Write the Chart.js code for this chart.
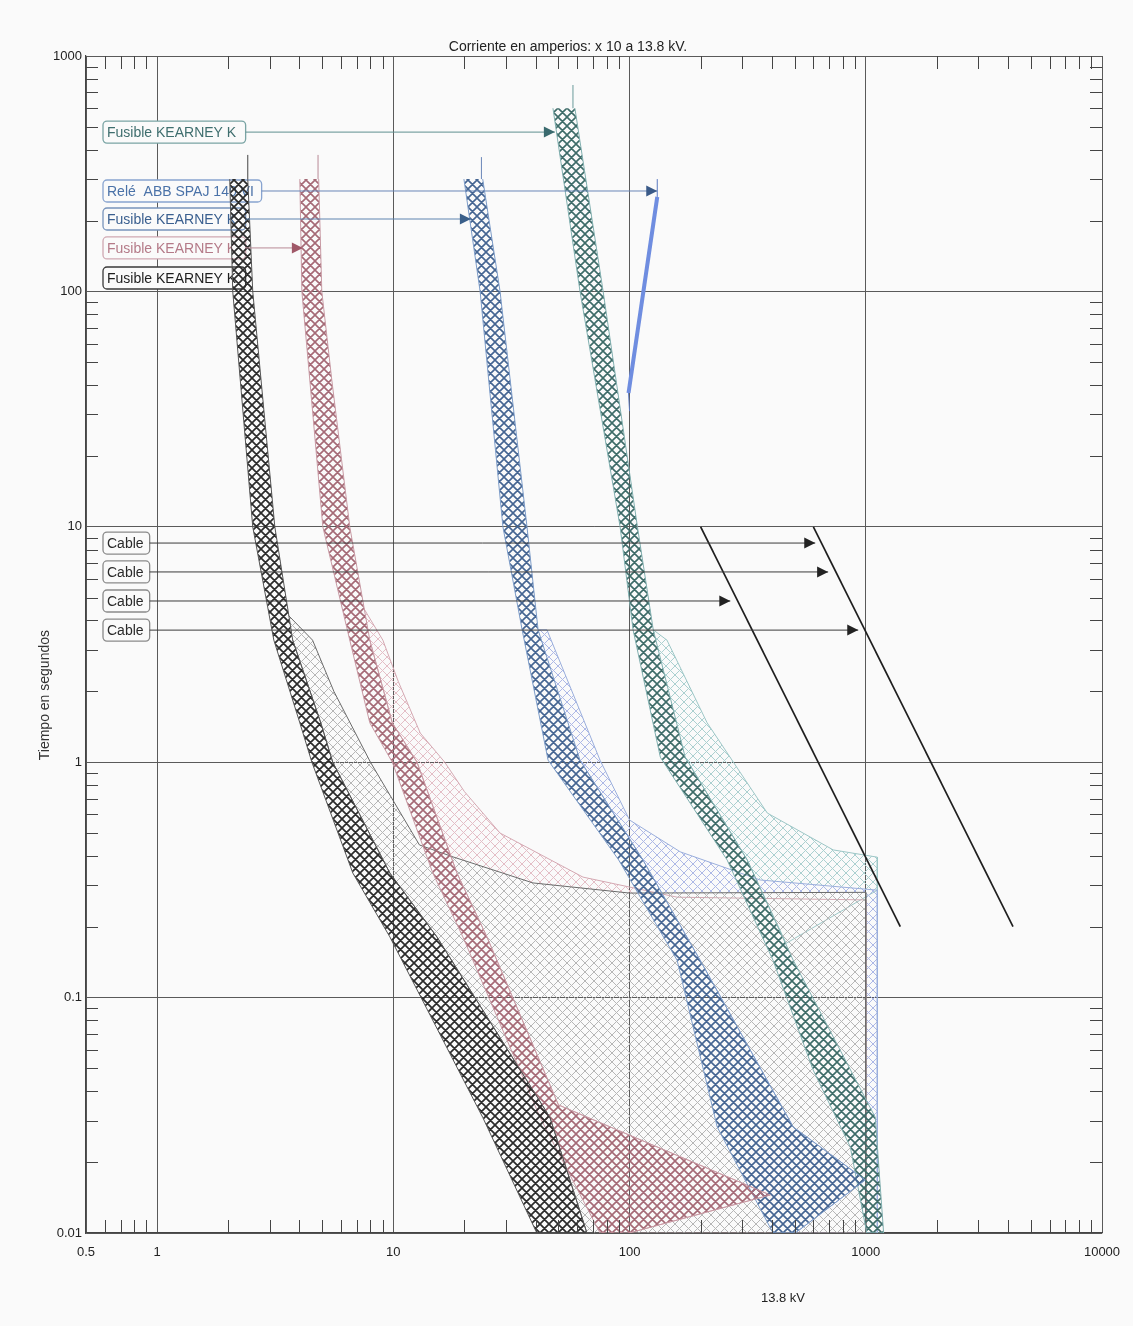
<!DOCTYPE html>
<html>
<head>
<meta charset="utf-8">
<title>Coordinación de protecciones 13.8 kV</title>
<script src="https://cdn.jsdelivr.net/npm/chart.js@4.4.1/dist/chart.umd.min.js"></script>
<style>
  html, body { margin: 0; padding: 0; background: #fafafa; }
  canvas { display: block; }
</style>
</head>
<body>
<canvas id="tcc" width="1133" height="1326"></canvas>
<script>
// axis ticks
const xTickValues = [0.5, 1, 10, 100, 1000, 10000];
const xTickLabels = ['0.5', '1', '10', '100', '1000', '10000'];
const yTickValues = [0.01, 0.1, 1, 10, 100, 1000];
const yTickLabels = ['0.01', '0.1', '1', '10', '100', '1000'];

// fuse bands: minimum melting curve (left) and total clearing curve (right)
const blackMinX = [2.03, 2.09, 2.54, 3.12, 4.02, 4.52, 6.74, 9.67, 23.9, 40.5];
const blackMinT = [300, 100, 10, 3.3, 1.47, 1.0, 0.338, 0.181, 0.031, 0.01];
const blackClrX = [2.42, 2.54, 3.15, 3.75, 4.93, 5.54, 9.67, 15.3, 46, 66];
const blackClrT = [300, 100, 10, 3.3, 1.47, 1.0, 0.338, 0.181, 0.031, 0.01];

const pinkMinX = [4.02, 4.1, 4.43, 5.03, 6.54, 7.95, 9.9, 14.7, 19.7, 41.8, 75];
const pinkMinT = [300, 100, 42, 10, 3.3, 1.47, 1.0, 0.338, 0.181, 0.031, 0.01];
const pinkClrX = [4.83, 4.98, 5.49, 6.54, 7.95, 9.9, 12.6, 18.6, 24.9, 50, 394, 99.5];
const pinkClrT = [300, 100, 42, 10, 3.3, 1.47, 1.0, 0.338, 0.181, 0.035, 0.0145, 0.01];

const blueMinX = [19.9, 23.3, 29.1, 35.1, 45.2, 90, 159, 235, 405];
const blueMinT = [300, 100, 10, 3.65, 1.02, 0.384, 0.144, 0.0282, 0.01];
const blueClrX = [23.9, 28.3, 36.8, 41, 61.7, 114, 199, 493, 995, 503];
const blueClrT = [300, 100, 10, 3.65, 1.02, 0.384, 0.144, 0.0282, 0.0168, 0.01];

const tealMinX = [47.4, 61.7, 91.2, 103.5, 135, 259, 405, 599, 860, 1010];
const tealMinT = [600, 100, 10, 3.65, 1.05, 0.384, 0.144, 0.0492, 0.0232, 0.01];
const tealClrX = [58.7, 77.3, 108, 126, 172, 315, 493, 1097, 1190];
const tealClrT = [600, 100, 10, 3.65, 1.05, 0.384, 0.144, 0.031, 0.01];

// light hatched zones to the right of each band
const grayZoneX = [3.6, 4.55, 5.6, 8.0, 12.9, 17.9, 39, 100, 1000, 1000, 66, 46, 15.3, 9.67, 5.54, 4.93, 3.75];
const grayZoneT = [4.2, 3.3, 2.0, 1.0, 0.445, 0.396, 0.307, 0.278, 0.28, 0.01, 0.01, 0.031, 0.181, 0.338, 1.0, 1.47, 3.3];
const pinkZoneX = [7.5, 9.03, 10.5, 13, 16.5, 20, 28.3, 63.5, 159, 1000, 1000, 99.5, 394, 50, 24.9, 18.6, 12.6, 9.9, 7.95];
const pinkZoneT = [4.5, 3.3, 2.2, 1.33, 1.0, 0.75, 0.5, 0.325, 0.267, 0.26, 0.01, 0.01, 0.0145, 0.035, 0.181, 0.338, 1.0, 1.47, 3.3];
const blueZoneX = [41, 44.7, 75, 100, 164, 357, 1119, 1119, 503, 995, 493, 199, 114, 61.7];
const blueZoneT = [3.65, 3.65, 1.02, 0.568, 0.416, 0.316, 0.286, 0.01, 0.01, 0.0168, 0.0282, 0.144, 0.384, 1.02];
const tealZoneX = [126, 144, 213, 383, 728, 1119, 1119, 460, 315, 172];
const tealZoneT = [3.65, 3.3, 1.47, 0.608, 0.424, 0.395, 0.286, 0.17, 0.384, 1.05];

// thin curve tails above the bands
const tailX = [2.42, 4.8, 23.6, 57.6];
const tailBottomT = [300, 300, 300, 600];
const tailTopT = [380, 380, 372, 753];

// relay ABB SPAJ 140
const relayX = [131, 99];
const relayT = [252, 37];
const relayTopX = [131, 131];
const relayTopT = [252, 300];
const relayFootX = [99, 100];
const relayFootT = [37, 31];

// cable damage curves
const cableAX = [200, 1400];
const cableAT = [10, 0.2];
const cableBX = [600, 4200];
const cableBT = [10, 0.2];

// labels
const labelText = ['Fusible KEARNEY K', 'Relé  ABB SPAJ 140 VI', 'Fusible KEARNEY K', 'Fusible KEARNEY K', 'Fusible KEARNEY K', 'Cable', 'Cable', 'Cable', 'Cable'];
const labelT = [475, 267, 203, 153, 114, 8.53, 6.43, 4.84, 3.64];
const labelEndX = [2.37, 2.77, 2.37, 2.37, 2.37, 0.93, 0.93, 0.93, 0.93];
const arrowX = [48.3, 131, 21.3, 4.14, null, 611, 693, 267, 929];
const labelColor = ['#3f6e6e', '#4a72a8', '#3a5f8f', '#b47a88', '#1e1e1e', '#2a2a2a', '#2a2a2a', '#2a2a2a', '#2a2a2a'];
const labelEdge = ['#7aa4a4', '#88a4d0', '#7894bc', '#d0a8b2', '#3a3a3a', '#8a8a8a', '#8a8a8a', '#8a8a8a', '#8a8a8a'];
const leaderColor = ['#5f8f8f', '#6a86b8', '#5f84b0', '#b88a96', '#333', '#3a3a3a', '#3a3a3a', '#3a3a3a', '#3a3a3a'];
const arrowColor = ['#3a6a6e', '#3a5a88', '#3a5f8a', '#a05868', '#222', '#222', '#222', '#222', '#222'];

Chart.defaults.font.family = "'Liberation Sans', Arial, sans-serif";
Chart.defaults.color = '#222';

const canvas = document.getElementById('tcc');
const ctx = canvas.getContext('2d');

function hatch(color, width) {
  const s = 9;
  const tile = document.createElement('canvas');
  tile.width = s; tile.height = s;
  const g = tile.getContext('2d');
  g.strokeStyle = color;
  g.lineWidth = width;
  g.beginPath();
  for (let k = -1; k <= 1; k++) {
    g.moveTo(k * s, 0); g.lineTo(k * s + s, s);
    g.moveTo(k * s + s, 0); g.lineTo(k * s, s);
  }
  g.stroke();
  return ctx.createPattern(tile, 'repeat');
}

function pts(xs, ts) {
  return xs.map((x, i) => ({ x: x, y: ts[i] }));
}

function band(minX, minT, clrX, clrT) {
  return pts(minX, minT).concat(pts(clrX, clrT).reverse());
}

function area(data, pattern, edge, order) {
  return { data: data, showLine: true, fill: 'shape', backgroundColor: pattern,
    borderColor: edge, borderWidth: 1, pointRadius: 0, order: order };
}

function line(data, color, width, order) {
  return { data: data, showLine: true, fill: false, borderColor: color,
    borderWidth: width, pointRadius: 0, order: order };
}

const datasets = [
  area(pts(grayZoneX, grayZoneT), hatch('#b6b6b6', 1), '#6a6a6a', 6),
  area(pts(pinkZoneX, pinkZoneT), hatch('#e4bec6', 1), '#d4a8b2', 6),
  area(pts(blueZoneX, blueZoneT), hatch('#adb8e6', 1), '#9aaedc', 6),
  area(pts(tealZoneX, tealZoneT), hatch('#abd0d0', 1), '#9cc6c6', 6),
  area(band(blackMinX, blackMinT, blackClrX, blackClrT), hatch('#2b2b2b', 1.7), '#555', 5),
  area(band(pinkMinX, pinkMinT, pinkClrX, pinkClrT), hatch('#a56a76', 1.6), '#c89aa4', 5),
  area(band(blueMinX, blueMinT, blueClrX, blueClrT), hatch('#456592', 1.6), '#7d9cc8', 5),
  area(band(tealMinX, tealMinT, tealClrX, tealClrT), hatch('#3d6b68', 1.6), '#82b0b0', 5)
];

const tailColor = ['#444', '#b88a96', '#6a86b8', '#6a9a9a'];
tailX.forEach((x, i) => {
  datasets.push(line([{ x: x, y: tailBottomT[i] }, { x: x, y: tailTopT[i] }], tailColor[i], 1, 4));
});

datasets.push(line(pts(relayX, relayT), '#6f8de0', 4, 3));
datasets.push(line(pts(relayTopX, relayTopT), '#5a78c0', 1, 3));
datasets.push(line(pts(relayFootX, relayFootT), '#5a78c0', 1, 3));
datasets.push(line(pts(cableAX, cableAT), '#1e1e1e', 1.7, 3));
datasets.push(line(pts(cableBX, cableBT), '#1e1e1e', 1.7, 3));

labelText.forEach((txt, i) => {
  if (arrowX[i] === null) return;
  const d = line([{ x: labelEndX[i], y: labelT[i] }, { x: arrowX[i], y: labelT[i] }], leaderColor[i], 1, 2);
  d.arrowColor = arrowColor[i];
  datasets.push(d);
});

// label boxes sit underneath the curves, like in the plot
const labelBoxes = {
  id: 'labelBoxes',
  beforeDatasetsDraw(chart) {
    const { ctx, chartArea, scales: { x, y } } = chart;
    ctx.save();
    ctx.font = "14px 'Liberation Sans', Arial, sans-serif";
    ctx.textBaseline = 'middle';
    labelText.forEach((txt, i) => {
      const cy = y.getPixelForValue(labelT[i]);
      const x0 = chartArea.left + 17;
      const x1 = x.getPixelForValue(labelEndX[i]);
      ctx.beginPath();
      ctx.roundRect(x0, cy - 11, x1 - x0, 22, 4);
      ctx.fillStyle = '#fafafa';
      ctx.fill();
      ctx.lineWidth = 1.3;
      ctx.strokeStyle = labelEdge[i];
      ctx.stroke();
      ctx.fillStyle = labelColor[i];
      ctx.fillText(txt, x0 + 4, cy + 1);
    });
    ctx.restore();
  }
};

const arrowHeads = {
  id: 'arrowHeads',
  afterDatasetsDraw(chart) {
    const ctx = chart.ctx;
    ctx.save();
    chart.data.datasets.forEach((ds, i) => {
      if (!ds.arrowColor) return;
      const meta = chart.getDatasetMeta(i);
      const tip = meta.data[meta.data.length - 1];
      ctx.beginPath();
      ctx.moveTo(tip.x, tip.y);
      ctx.lineTo(tip.x - 11, tip.y - 5.5);
      ctx.lineTo(tip.x - 11, tip.y + 5.5);
      ctx.closePath();
      ctx.fillStyle = ds.arrowColor;
      ctx.fill();
    });
    ctx.restore();
  }
};

// inward minor ticks on the four sides of the frame
const minorTicks = {
  id: 'minorTicks',
  afterDatasetsDraw(chart) {
    const { ctx, chartArea: a, scales: { x, y } } = chart;
    ctx.save();
    ctx.strokeStyle = '#444';
    ctx.lineWidth = 1;
    ctx.beginPath();
    for (let e = -2; e <= 3; e++) {
      for (let m = 2; m <= 9; m++) {
        const v = m * Math.pow(10, e);
        if (v > x.min && v < x.max) {
          const px = Math.round(x.getPixelForValue(v)) + 0.5;
          ctx.moveTo(px, a.bottom); ctx.lineTo(px, a.bottom - 13);
          ctx.moveTo(px, a.top); ctx.lineTo(px, a.top + 13);
        }
        if (v > y.min && v < y.max) {
          const py = Math.round(y.getPixelForValue(v)) + 0.5;
          ctx.moveTo(a.left, py); ctx.lineTo(a.left + 12, py);
          ctx.moveTo(a.right, py); ctx.lineTo(a.right - 12, py);
        }
      }
    }
    ctx.stroke();
    ctx.restore();
  }
};

// axis titles sit off-centre in the original, so they are placed by hand
const axisTitles = {
  id: 'axisTitles',
  afterDraw(chart) {
    const { ctx, chartArea: a } = chart;
    ctx.save();
    ctx.fillStyle = '#222';
    ctx.textAlign = 'center';
    ctx.textBaseline = 'middle';
    ctx.font = "13px 'Liberation Sans', Arial, sans-serif";
    ctx.fillText('13.8 kV', a.left + (a.right - a.left) * 0.686, 1298);
    ctx.translate(a.left - 41, a.top + (a.bottom - a.top) * 0.543);
    ctx.rotate(-Math.PI / 2);
    ctx.font = "14px 'Liberation Sans', Arial, sans-serif";
    ctx.fillStyle = '#333';
    ctx.fillText('Tiempo en segundos', 0, 0);
    ctx.restore();
  }
};

const gridColor = '#5a5a5a';

new Chart(ctx, {
  type: 'scatter',
  data: { datasets: datasets },
  options: {
    responsive: false,
    animation: false,
    events: [],
    layout: { padding: { left: 34, right: 31, top: 0, bottom: 0 } },
    plugins: {
      legend: { display: false },
      tooltip: { enabled: false },
      title: {
        display: true,
        text: 'Corriente en amperios: x 10 a 13.8 kV.',
        color: '#222',
        font: { size: 14, weight: 'normal' },
        padding: { top: 39, bottom: 0.2 }
      }
    },
    scales: {
      x: {
        type: 'logarithmic',
        min: 0.5,
        max: 10000,
        afterBuildTicks: s => { s.ticks = xTickValues.map(v => ({ value: v })); },
        afterFit: s => { s.height = 93; },
        ticks: {
          autoSkip: false,
          maxRotation: 0,
          padding: 12,
          font: { size: 13 },
          color: '#222',
          callback: (v, i) => xTickLabels[i]
        },
        grid: { color: gridColor, lineWidth: 1, drawTicks: false },
        border: { color: '#444', width: 1.2 }
      },
      y: {
        type: 'logarithmic',
        min: 0.01,
        max: 1000,
        afterBuildTicks: s => { s.ticks = yTickValues.map(v => ({ value: v })); },
        afterFit: s => { s.width = 52; },
        ticks: {
          autoSkip: false,
          padding: 4,
          font: { size: 13 },
          color: '#222',
          callback: (v, i) => yTickLabels[i]
        },
        grid: { color: gridColor, lineWidth: 1, drawTicks: false },
        border: { color: '#444', width: 1.2 }
      }
    }
  },
  plugins: [labelBoxes, arrowHeads, minorTicks, axisTitles]
});
</script>
</body>
</html>
